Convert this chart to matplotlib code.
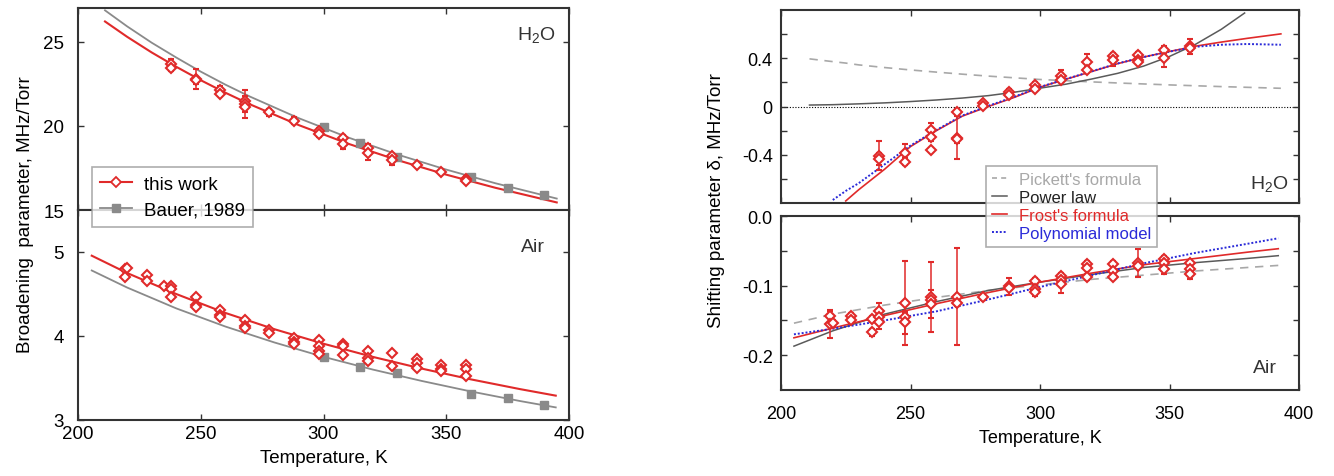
import numpy as np
import matplotlib
matplotlib.use("Agg")
import matplotlib.pyplot as plt
from matplotlib.lines import Line2D

plt.rcParams['font.family'] = ['Liberation Sans', 'DejaVu Sans']
plt.rcParams['mathtext.default'] = 'regular'
plt.rcParams['axes.unicode_minus'] = False

# -------------------------
# DATA: broadening, H2O (left top)
# -------------------------
bh_T = [238, 238, 248, 248, 258, 258, 268, 268, 268, 278, 288,
        298, 298, 308, 308, 318, 318, 328, 328, 338, 348, 358, 358]
bh_val = [23.65, 23.43, 22.8, 22.7, 22.1, 21.9, 21.5, 21.3, 21.1, 20.8, 20.3,
          19.7, 19.5, 19.27, 18.9, 18.7, 18.4, 18.2, 18.0, 17.7, 17.28, 16.85, 16.7]
bh_err = [0.35, 0.15, 0.6, 0.2, 0.25, 0.15, 0.3, 0.85, 0.3, 0.2, 0.2,
          0.15, 0.15, 0.2, 0.3, 0.2, 0.4, 0.15, 0.35, 0.1, 0.1, 0.15, 0.1]

bauer_T = [300, 315, 330, 360, 375, 390]
bauer_h2o = [19.92, 19.0, 18.15, 16.98, 16.33, 15.9]
bauer_air = [3.746, 3.635, 3.56, 3.31, 3.26, 3.18]

fitL_T = [211, 220, 230, 240, 250, 260, 270, 290, 310, 330, 350, 370, 395]
fit_h2o_this = [26.2, 25.29, 24.36, 23.51, 22.71, 21.97, 21.28, 20.04, 18.94, 17.97, 17.10, 16.32, 15.45]
fit_h2o_bauer = [26.86, 25.91, 24.94, 24.06, 23.22, 22.45, 21.74, 20.45, 19.31, 18.30, 17.40, 16.59, 15.68]

# -------------------------
# DATA: broadening, air (left bottom)
# -------------------------
ba_T = [219, 219, 220, 228, 228, 235, 238, 238, 238, 248, 248, 248,
        258, 258, 258, 268, 268, 268, 278, 278, 288, 288, 288,
        298, 298, 298, 298, 308, 308, 308, 318, 318, 318, 328, 328,
        338, 338, 338, 348, 348, 348, 358, 358, 358]
ba_val = [4.80, 4.70, 4.81, 4.73, 4.66, 4.59, 4.59, 4.56, 4.47, 4.47, 4.37, 4.34,
          4.31, 4.25, 4.23, 4.19, 4.115, 4.09, 4.07, 4.03, 3.98, 3.93, 3.90,
          3.95, 3.885, 3.825, 3.79, 3.90, 3.885, 3.774, 3.82, 3.734, 3.70, 3.80, 3.64,
          3.73, 3.68, 3.615, 3.65, 3.61, 3.58, 3.66, 3.61, 3.52]

fitA_T = [205.6, 220, 240, 260, 280, 300, 320, 340, 360, 380, 394.6]
fit_air_this = [4.956, 4.75, 4.50, 4.275, 4.081, 3.908, 3.752, 3.612, 3.484, 3.368, 3.29]
fit_air_bauer = [4.78, 4.577, 4.329, 4.113, 3.923, 3.752, 3.601, 3.465, 3.340, 3.226, 3.15]

# -------------------------
# DATA: shifting, H2O (right top)
# -------------------------
sh_T = [238, 238, 248, 248, 258, 258, 258, 268, 268, 268, 278, 278, 288, 288,
        298, 298, 308, 308, 318, 318, 328, 328, 338, 338, 338, 348, 348, 358, 358]
sh_val = [-0.409, -0.434, -0.387, -0.456, -0.194, -0.254, -0.36, -0.042, -0.257, -0.271,
          0.028, 0.008, 0.124, 0.097, 0.18, 0.144, 0.249, 0.221, 0.373, 0.304,
          0.415, 0.387, 0.429, 0.387, 0.368, 0.47, 0.401, 0.498, 0.484]
sh_err = [0.12, 0.05, 0.08, 0.03, 0.06, 0.03, 0.02, 0.02, 0.18, 0.03,
          0.02, 0.01, 0.02, 0.01, 0.02, 0.01, 0.05, 0.02, 0.06, 0.02,
          0.03, 0.05, 0.02, 0.02, 0.01, 0.03, 0.07, 0.06, 0.02]

fitS_T = [211, 220, 225, 230, 240, 250, 260, 270, 280, 290, 300, 310, 320,
          330, 340, 350, 360, 370, 380, 393]
pickett_h2o = [0.395, 0.372, 0.360, 0.345, 0.323, 0.303, 0.285, 0.268, 0.252, 0.238,
               0.224, 0.214, 0.204, 0.195, 0.187, 0.179, 0.172, 0.165, 0.159, 0.151]
frost_h2o = [np.nan, np.nan, -0.783, -0.69, -0.52, -0.332, -0.20, -0.08, 0.0, 0.075,
             0.160, 0.226, 0.290, 0.355, 0.410, 0.456, 0.500, 0.534, 0.565, 0.602]
poly_h2o = [np.nan, -0.775, -0.70, -0.636, -0.48, -0.324, -0.195, -0.075, 0.005, 0.080,
            0.162, 0.228, 0.292, 0.357, 0.410, 0.455, 0.495, 0.512, 0.518, 0.512]

powS_T = [211, 220, 230, 240, 250, 260, 270, 280, 290, 300, 310, 320,
          330, 340, 350, 360, 370, 379]
power_h2o = [0.012, 0.015, 0.022, 0.030, 0.041, 0.054, 0.070, 0.090, 0.118,
             0.152, 0.185, 0.228, 0.275, 0.335, 0.415, 0.515, 0.640, 0.775]

# -------------------------
# DATA: shifting, air (right bottom)
# -------------------------
sa_T = [219, 219, 220, 227, 227, 235, 235, 238, 238, 238, 248, 248, 248,
        258, 258, 258, 268, 268, 278, 288, 288, 298, 298, 298,
        308, 308, 308, 318, 318, 318, 328, 328, 328, 338, 338,
        348, 348, 348, 358, 358, 358]
sa_val = [-0.144, -0.155, -0.154, -0.144, -0.150, -0.148, -0.167, -0.137, -0.145, -0.153,
          -0.125, -0.145, -0.153, -0.116, -0.120, -0.126, -0.116, -0.125, -0.116,
          -0.101, -0.103, -0.093, -0.105, -0.1095, -0.086, -0.092, -0.098,
          -0.069, -0.074, -0.088, -0.069, -0.0795, -0.087, -0.068, -0.0714,
          -0.062, -0.068, -0.076, -0.068, -0.076, -0.083]
sa_err = [0.008, 0.02, 0.005, 0.005, 0.004, 0.004, 0.005, 0.012, 0.005, 0.01,
          0.06, 0.005, 0.016, 0.05, 0.004, 0.02, 0.07, 0.005, 0.004,
          0.012, 0.004, 0.004, 0.004, 0.006, 0.004, 0.004, 0.012,
          0.004, 0.004, 0.004, 0.004, 0.004, 0.004, 0.02, 0.004,
          0.004, 0.004, 0.008, 0.004, 0.004, 0.008]

fitSA_T = [205, 220, 240, 260, 280, 300, 320, 340, 360, 380, 392]
pickett_air = [-0.154, -0.141, -0.128, -0.117, -0.107, -0.099, -0.091, -0.085, -0.079, -0.074, -0.071]
power_air = [-0.187, -0.165, -0.141, -0.123, -0.107, -0.095, -0.084, -0.074, -0.067, -0.061, -0.057]
frost_air = [-0.175, -0.161, -0.143, -0.126, -0.110, -0.095, -0.082, -0.070, -0.061, -0.052, -0.047]
poly_air = [-0.170, -0.162, -0.150, -0.137, -0.120, -0.102, -0.085, -0.068, -0.053, -0.040, -0.032]

# -------------------------
# STYLE
# -------------------------
RED = '#e02a2a'
GREY = '#8a8a8a'
DGREY = '#5a5a5a'
LGREY = '#a8a8a8'
BLUE = '#2a2ad8'
SPINE = '#333333'

W, H = 1334, 477
fig = plt.figure(figsize=(W / 100, H / 100), dpi=100)


def px_axes(x0, y0, x1, y1):
    return fig.add_axes([x0 / W, 1 - y1 / H, (x1 - x0) / W, (y1 - y0) / H])


def style(ax, ypad, xpad, fs):
    for s in ax.spines.values():
        s.set_linewidth(1.5)
        s.set_color(SPINE)
    ax.tick_params(which='both', direction='in', top=True, right=True,
                   length=4, width=1.0, color=SPINE, labelsize=fs)
    ax.tick_params(axis='y', pad=ypad)
    ax.tick_params(axis='x', pad=xpad)
    ax.set_xlim(200, 400)
    ax.set_xticks([200, 250, 300, 350, 400])


def diamonds(ax, T, v, err=None):
    ax.errorbar(T, v, yerr=err, fmt='D', ms=5.5, mfc='white', mec=RED, mew=1.5,
                ecolor=RED, elinewidth=1.1, capsize=2, capthick=1.0,
                linestyle='none', zorder=5)


# =========================================================
# LEFT: broadening
# =========================================================
axL1 = px_axes(78, 9, 569, 211)
axL2 = px_axes(78, 211, 569, 421)
for ax in (axL1, axL2):
    style(ax, 10, 3.5, 13.5)

axL1.plot(fitL_T, fit_h2o_bauer, color=GREY, lw=1.3, zorder=2)
axL1.plot(fitL_T, fit_h2o_this, color=RED, lw=1.5, zorder=3)
axL1.plot(bauer_T, bauer_h2o, 's', color=GREY, ms=5.5, zorder=4)
diamonds(axL1, bh_T, bh_val, bh_err)
axL1.set_ylim(15, 27)
axL1.set_yticks([15, 20, 25])
axL1.tick_params(labelbottom=False)
axL1.text(0.973, 0.871, 'H$_2$O', transform=axL1.transAxes, ha='right', va='center', fontsize=14, color='#333333')

axL2.plot(fitA_T, fit_air_bauer, color=GREY, lw=1.3, zorder=2)
axL2.plot(fitA_T, fit_air_this, color=RED, lw=1.5, zorder=3)
axL2.plot(bauer_T, bauer_air, 's', color=GREY, ms=5.5, zorder=4)
diamonds(axL2, ba_T, ba_val)
axL2.set_ylim(3, 5.5)
axL2.set_yticks([3, 4, 5])
axL2.text(0.951, 0.824, 'Air', transform=axL2.transAxes, ha='right', va='center', fontsize=14, color='#333333')
axL2.set_xlabel('Temperature, K', fontsize=13.5, labelpad=5)

fig.text(26 / W, 1 - 215 / H, 'Broadening  parameter, MHz/Torr', rotation=90,
         ha='center', va='center', fontsize=13.5)

hL = [Line2D([0], [0], color=RED, lw=1.5, marker='D', ms=5.5, mfc='white', mec=RED, mew=1.3),
      Line2D([0], [0], color=GREY, lw=1.3, marker='s', ms=5.5)]
legL = fig.legend(hL, ['this work', 'Bauer, 1989'], loc='upper left',
                  bbox_to_anchor=(92 / W, 1 - 168 / H), borderaxespad=0, fontsize=13.5,
                  frameon=True, fancybox=False, edgecolor='#999999',
                  handlelength=1.7, borderpad=0.45, labelspacing=0.45, handletextpad=0.6)
legL.get_frame().set_linewidth(1.2)

# =========================================================
# RIGHT: shifting
# =========================================================
axR1 = px_axes(781, 11, 1299, 204)
axR2 = px_axes(781, 217, 1299, 391)
for ax in (axR1, axR2):
    style(ax, 6, 11, 13)

axR1.axhline(0, color='black', lw=0.8, ls=(0, (1, 1.5)), zorder=1)
axR1.plot(fitS_T, pickett_h2o, color=LGREY, lw=1.2, ls=(0, (5, 4)), zorder=2)
axR1.plot(powS_T, power_h2o, color=DGREY, lw=1.1, zorder=2)
axR1.plot(fitS_T, frost_h2o, color=RED, lw=1.2, zorder=3)
axR1.plot(fitS_T, poly_h2o, color=BLUE, lw=1.4, ls=(0, (1, 1)), zorder=3)
diamonds(axR1, sh_T, sh_val, sh_err)
axR1.set_ylim(-0.8, 0.8)
axR1.set_yticks([-0.6, -0.4, -0.2, 0, 0.2, 0.4, 0.6])
axR1.set_yticklabels(['', '-0.4', '', '0', '', '0.4', ''])
axR1.tick_params(labelbottom=False)
axR1.text(0.979, 0.104, 'H$_2$O', transform=axR1.transAxes, ha='right', va='center', fontsize=14, color='#333333')

axR2.plot(fitSA_T, pickett_air, color=LGREY, lw=1.2, ls=(0, (5, 4)), zorder=2)
axR2.plot(fitSA_T, power_air, color=DGREY, lw=1.1, zorder=2)
axR2.plot(fitSA_T, frost_air, color=RED, lw=1.2, zorder=3)
axR2.plot(fitSA_T, poly_air, color=BLUE, lw=1.4, ls=(0, (1, 1)), zorder=3)
diamonds(axR2, sa_T, sa_val, sa_err)
axR2.set_ylim(-0.25, 0.0)
axR2.set_yticks([-0.2, -0.15, -0.1, -0.05, 0.0])
axR2.set_yticklabels(['-0.2', '', '-0.1', '', '0.0'])
axR2.text(0.957, 0.132, 'Air', transform=axR2.transAxes, ha='right', va='center', fontsize=14, color='#333333')
axR2.set_xlabel('Temperature, K', fontsize=13, labelpad=5)

fig.text(716 / W, 1 - 201 / H, 'Shifting parameter δ, MHz/Torr', rotation=90,
         ha='center', va='center', fontsize=13.5)

hR = [Line2D([0], [0], color=LGREY, lw=1.2, ls=(0, (3, 2.5))),
      Line2D([0], [0], color=DGREY, lw=1.1),
      Line2D([0], [0], color=RED, lw=1.2),
      Line2D([0], [0], color=BLUE, lw=1.4, ls=(0, (1, 1)))]
legR = fig.legend(hR, ["Pickett's formula", 'Power law', "Frost's formula", 'Polynomial model'],
                  loc='upper left', bbox_to_anchor=(986 / W, 1 - 167 / H), borderaxespad=0,
                  fontsize=12, frameon=True, fancybox=False, edgecolor='#999999',
                  handlelength=0.9, borderpad=0.35, labelspacing=0.18, handletextpad=0.75,
                  labelcolor=[LGREY, '#222222', RED, BLUE])
legR.get_frame().set_linewidth(1.2)

fig.savefig('out.png', dpi=100, facecolor='white')
